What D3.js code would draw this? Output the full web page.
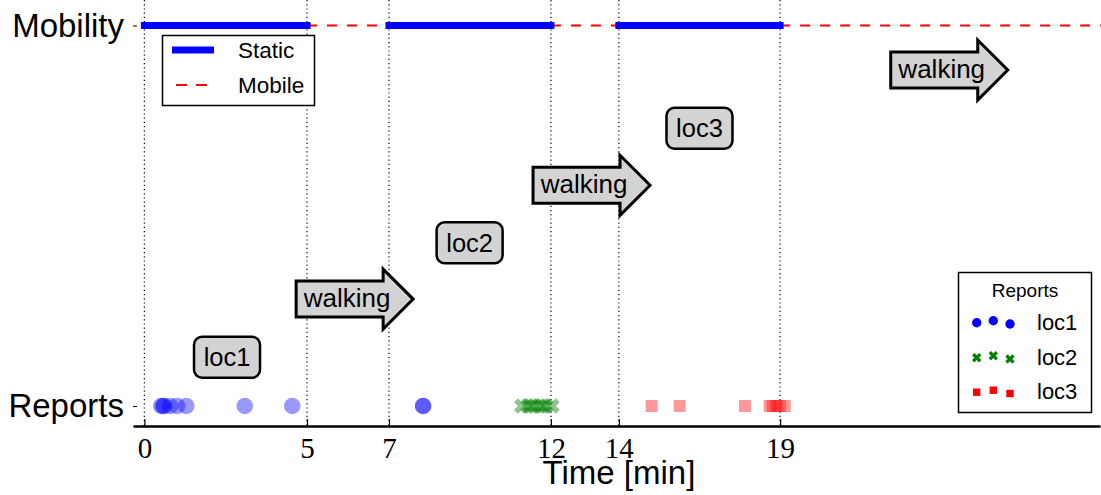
<!DOCTYPE html>
<html>
<head>
<meta charset="utf-8">
<script src="https://cdn.jsdelivr.net/npm/d3@7"></script>
<style>
  body { margin: 0; background: #fff; }
  svg { display: block; }
</style>
</head>
<body>
<div id="chart"></div>
<script>
// time ticks (actual event times) and their labels
let tickTimes = [0, 4.86, 7.31, 12.15, 14.18, 19.0]
let tickLabels = ['0', '5', '7', '12', '14', '19']

// mobility state segments [start, end] in minutes
let staticPeriods = [[0, 4.86], [7.31, 12.15], [14.18, 19.0]]
let mobilePeriods = [[4.86, 7.31], [12.15, 14.18], [19.0, 28.6]]

// report times per location
let loc1Reports = [0.5, 0.56, 0.59, 0.77, 0.98, 1.25, 3.0, 4.42, 8.33, 8.33]
let loc2Reports = [11.28, 11.46, 11.64, 11.82, 12.0, 12.18, 11.55, 11.9]
let loc3Reports = [15.16, 16.0, 17.95, 18.69, 18.78, 18.89, 18.99, 19.14]

// annotations: label, time, level (0 = Reports, 1 = Mobility)
let locLabels = [['loc1', 2.47, 0.128], ['loc2', 9.72, 0.429], ['loc3', 16.59, 0.73]]
let walkLabels = [['walking', 6.06, 0.281], ['walking', 13.14, 0.58], ['walking', 23.83, 0.883]]

let rowNames = ['Reports', 'Mobility']

let w = 1101
let h = 495
let sans = 'Liberation Sans, Arial, Helvetica, sans-serif'
let serif = 'Liberation Serif, Times New Roman, serif'

let svg = d3.select('#chart').append('svg')
  .attr('width', w)
  .attr('height', h)

let x = d3.scaleLinear().domain([-0.34, 28.56]).range([133, 1100])
let y = d3.scaleLinear().domain([0, 1]).range([406, 25.5])
let axisY = 426

// dotted guides
svg.append('g')
  .selectAll('line')
  .data(tickTimes)
  .enter().append('line')
  .attr('x1', d => x(d)).attr('x2', d => x(d))
  .attr('y1', 0).attr('y2', axisY)
  .attr('stroke', '#000')
  .attr('stroke-width', 1.2)
  .attr('stroke-dasharray', '1.2,3')

// mobility line
let mob = svg.append('g')
mob.selectAll('line.mobile')
  .data(mobilePeriods)
  .enter().append('line')
  .attr('class', 'mobile')
  .attr('x1', d => x(d[0])).attr('x2', d => x(d[1]))
  .attr('y1', y(1)).attr('y2', y(1))
  .attr('stroke', '#ff0000')
  .attr('stroke-width', 2)
  .attr('stroke-dasharray', '10,10')
mob.selectAll('line.static')
  .data(staticPeriods)
  .enter().append('line')
  .attr('class', 'static')
  .attr('x1', d => x(d[0])).attr('x2', d => x(d[1]))
  .attr('y1', y(1)).attr('y2', y(1))
  .attr('stroke', '#0000ff')
  .attr('stroke-width', 7)
  .attr('stroke-linecap', 'square')

// reports
let rep = svg.append('g')
rep.selectAll('circle')
  .data(loc1Reports)
  .enter().append('circle')
  .attr('cx', d => x(d))
  .attr('cy', y(0))
  .attr('r', 8.3)
  .attr('fill', '#0000ff')
  .attr('fill-opacity', 0.4)

let crossBig = d3.symbol(d3.symbolCross, 150)
rep.selectAll('path.x')
  .data(loc2Reports)
  .enter().append('path')
  .attr('class', 'x')
  .attr('d', crossBig)
  .attr('transform', d => 'translate(' + x(d) + ',' + y(0) + ') rotate(45)')
  .attr('fill', '#008000')
  .attr('fill-opacity', 0.45)

rep.selectAll('rect')
  .data(loc3Reports)
  .enter().append('rect')
  .attr('x', d => x(d) - 6)
  .attr('y', y(0) - 6)
  .attr('width', 12)
  .attr('height', 12)
  .attr('fill', '#ff0000')
  .attr('fill-opacity', 0.4)

// location boxes
let locG = svg.append('g')
  .selectAll('g')
  .data(locLabels)
  .enter().append('g')
  .attr('transform', d => 'translate(' + x(d[1]) + ',' + y(d[2]) + ')')
locG.append('rect')
  .attr('x', -33).attr('y', -20.5)
  .attr('width', 66).attr('height', 41)
  .attr('rx', 8).attr('ry', 8)
  .attr('fill', '#d3d3d3')
  .attr('stroke', '#000')
  .attr('stroke-width', 2.5)
locG.append('text')
  .attr('text-anchor', 'middle')
  .attr('dy', '0.36em')
  .style('font-family', sans)
  .style('font-size', '25.5px')
  .text(d => d[0])

// walking arrows
let arrow = 'M-51,-18L36,-18L36,-30L66,0L36,30L36,18L-51,18Z'
let walkG = svg.append('g')
  .selectAll('g')
  .data(walkLabels)
  .enter().append('g')
  .attr('transform', d => 'translate(' + x(d[1]) + ',' + y(d[2]) + ')')
walkG.append('path')
  .attr('d', arrow)
  .attr('fill', '#d3d3d3')
  .attr('stroke', '#000')
  .attr('stroke-width', 3)
walkG.append('text')
  .attr('text-anchor', 'middle')
  .attr('dy', '0.3em')
  .style('font-family', sans)
  .style('font-size', '26px')
  .text(d => d[0])

// x axis
let xAxis = d3.axisBottom(x)
  .tickValues(tickTimes)
  .tickFormat((d, i) => tickLabels[i])
  .tickSizeInner(-7)
  .tickSizeOuter(0)
  .tickPadding(11)
let gx = svg.append('g')
  .attr('transform', 'translate(0,' + axisY + ')')
  .call(xAxis)
gx.select('.domain').attr('stroke-width', 2.5)
gx.selectAll('.tick line').attr('stroke-width', 1.2)
gx.selectAll('text')
  .style('font-family', serif)
  .style('font-size', '29px')
  .attr('fill', '#000')

svg.append('text')
  .attr('x', 619)
  .attr('y', 484)
  .attr('text-anchor', 'middle')
  .style('font-family', sans)
  .style('font-size', '33px')
  .text('Time [min]')

// y axis (rows)
let yAxis = d3.axisLeft(y)
  .tickValues([0, 1])
  .tickFormat(d => rowNames[d])
  .tickSizeInner(-4)
  .tickSizeOuter(0)
  .tickPadding(9)
let gy = svg.append('g')
  .attr('transform', 'translate(133,0)')
  .call(yAxis)
gy.select('.domain').remove()
gy.selectAll('text')
  .style('font-family', sans)
  .style('font-size', '33px')
  .attr('fill', '#000')

// mobility legend
let lg = svg.append('g')
lg.append('rect')
  .attr('x', 162.5).attr('y', 35.5)
  .attr('width', 152).attr('height', 70)
  .attr('fill', '#fff')
  .attr('stroke', '#000')
  .attr('stroke-width', 1.5)
lg.append('line')
  .attr('x1', 172).attr('x2', 214)
  .attr('y1', 50).attr('y2', 50)
  .attr('stroke', '#0000ff')
  .attr('stroke-width', 7)
lg.append('line')
  .attr('x1', 176).attr('x2', 207)
  .attr('y1', 85).attr('y2', 85)
  .attr('stroke', '#ff0000')
  .attr('stroke-width', 2)
  .attr('stroke-dasharray', '11,9')
lg.append('text')
  .attr('x', 238).attr('y', 58)
  .style('font-family', sans)
  .style('font-size', '22.5px')
  .text('Static')
lg.append('text')
  .attr('x', 238).attr('y', 93)
  .style('font-family', sans)
  .style('font-size', '22.5px')
  .text('Mobile')

// reports legend
let rg = svg.append('g')
rg.append('rect')
  .attr('x', 958.5).attr('y', 272.5)
  .attr('width', 133).attr('height', 140)
  .attr('fill', '#fff')
  .attr('stroke', '#000')
  .attr('stroke-width', 1.5)
rg.append('text')
  .attr('x', 1025).attr('y', 297)
  .attr('text-anchor', 'middle')
  .style('font-family', sans)
  .style('font-size', '19px')
  .text('Reports')

let legX = [976.7, 993.3, 1010]
let legDy = [0.7, -1.3, 2]
let rowY = [322, 357, 391.5]
let crossSmall = d3.symbol(d3.symbolCross, 55)

rg.selectAll('circle')
  .data(legX)
  .enter().append('circle')
  .attr('cx', d => d)
  .attr('cy', (d, i) => rowY[0] + legDy[i])
  .attr('r', 4.7)
  .attr('fill', '#0000ff')
rg.selectAll('path')
  .data(legX)
  .enter().append('path')
  .attr('d', crossSmall)
  .attr('transform', (d, i) => 'translate(' + d + ',' + (rowY[1] + legDy[i]) + ') rotate(45)')
  .attr('fill', '#008000')
rg.selectAll('rect.m')
  .data(legX)
  .enter().append('rect')
  .attr('class', 'm')
  .attr('x', d => d - 3.7)
  .attr('y', (d, i) => rowY[2] + legDy[i] - 3.7)
  .attr('width', 7.4).attr('height', 7.4)
  .attr('fill', '#ff0000')

rg.selectAll('text.lab')
  .data(['loc1', 'loc2', 'loc3'])
  .enter().append('text')
  .attr('class', 'lab')
  .attr('x', 1037)
  .attr('y', (d, i) => rowY[i])
  .attr('dy', '0.36em')
  .style('font-family', sans)
  .style('font-size', '22px')
  .text(d => d)
</script>
</body>
</html>
